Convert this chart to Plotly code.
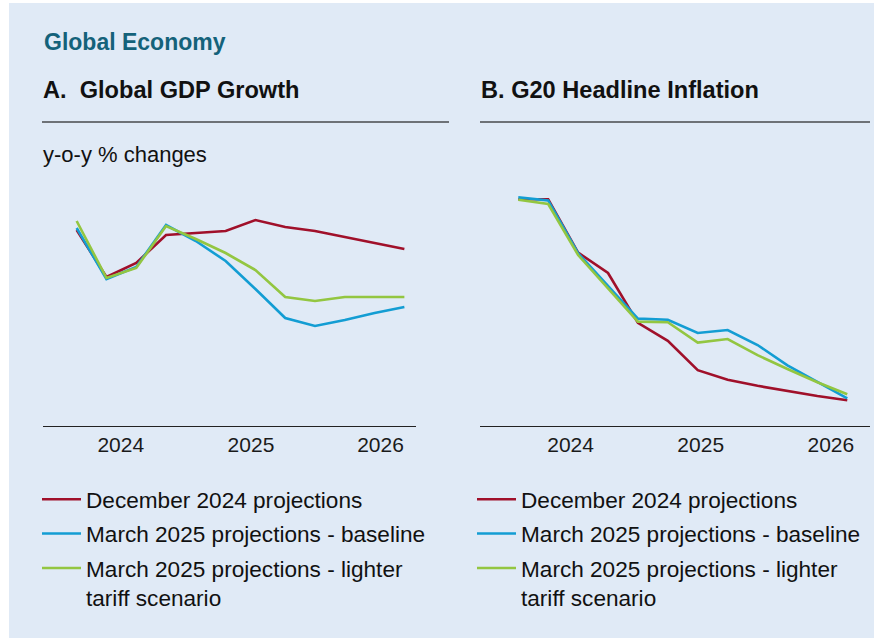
import plotly.graph_objects as go

# ---------------- data ----------------
quarters = ["2023Q3", "2023Q4", "2024Q1", "2024Q2", "2024Q3", "2024Q4",
            "2025Q1", "2025Q2", "2025Q3", "2025Q4", "2026Q1", "2026Q2"]
qidx = [0, 1, 2, 3, 4, 5, 6, 7, 8, 9, 10, 11]

series_names = ["December 2024 projections",
                "March 2025 projections - baseline",
                "March 2025 projections - lighter<br>tariff scenario"]

gdp_dec24 = [3.46, 2.99, 3.13, 3.41, 3.43, 3.45, 3.56, 3.49, 3.45, 3.39, 3.33, 3.27]
gdp_mar25_base = [3.48, 2.97, 3.09, 3.51, 3.35, 3.15, 2.87, 2.58, 2.50, 2.56, 2.63, 2.69]
gdp_mar25_light = [3.55, 2.98, 3.08, 3.50, 3.37, 3.23, 3.06, 2.79, 2.75, 2.79, 2.79, 2.79]

inf_dec24 = [6.28, 6.28, 5.39, 5.05, 4.22, 3.92, 3.43, 3.27, 3.17, 3.08, 3.00, 2.93]
inf_mar25_base = [6.31, 6.26, 5.38, 4.83, 4.29, 4.27, 4.05, 4.10, 3.85, 3.51, 3.24, 2.96]
inf_mar25_light = [6.27, 6.20, 5.35, 4.80, 4.24, 4.23, 3.89, 3.95, 3.68, 3.45, 3.23, 3.03]

year_labels = ["2024", "2025", "2026"]
gdp_year_pos = [1.48, 5.85, 10.2]
inf_year_pos = [1.75, 6.1, 10.45]

colors = ["#A0102A", "#139DD3", "#93C641"]

W, H = 874, 641
FONT = "Liberation Sans, Arial, sans-serif"

fig = go.Figure()

for i, (vals, name, col) in enumerate(zip([gdp_dec24, gdp_mar25_base, gdp_mar25_light], series_names, colors)):
    fig.add_trace(go.Scatter(x=qidx, y=vals, name=name, mode="lines",
                             line=dict(color=col, width=2.6),
                             xaxis="x", yaxis="y", legend="legend", legendgroup=f"a{i}",
                             customdata=quarters))
for i, (vals, name, col) in enumerate(zip([inf_dec24, inf_mar25_base, inf_mar25_light], series_names, colors)):
    fig.add_trace(go.Scatter(x=qidx, y=vals, name=name, mode="lines",
                             line=dict(color=col, width=2.6),
                             xaxis="x2", yaxis="y2", legend="legend2", legendgroup=f"b{i}",
                             customdata=quarters))

def px_x(p):
    return p / W

def px_y(p):
    return (H - p) / H

axis_common = dict(showgrid=False, zeroline=False, showline=True, linecolor="#222222",
                   linewidth=1, ticks="", tickfont=dict(family=FONT, size=21, color="#1a1a1a"),
                   fixedrange=True)

legend_common = dict(xanchor="left", yanchor="top", bgcolor="rgba(0,0,0,0)",
                     font=dict(family=FONT, size=22.6, color="#111111"),
                     tracegroupgap=2, itemwidth=39, valign="top", borderwidth=0)

fig.update_layout(
    width=W, height=H,
    margin=dict(l=0, r=0, t=0, b=0),
    paper_bgcolor="white",
    plot_bgcolor="rgba(0,0,0,0)",
    font=dict(family=FONT),
    xaxis=dict(domain=[px_x(42.7), px_x(416)], range=[-1.14, 11.39],
               tickmode="array", tickvals=gdp_year_pos, ticktext=year_labels,
               anchor="y", **axis_common),
    yaxis=dict(domain=[px_y(426), px_y(176)], range=[1.5, 4.0], visible=False,
               anchor="x", fixedrange=True),
    xaxis2=dict(domain=[px_x(480), px_x(870)], range=[-1.28, 11.76],
                tickmode="array", tickvals=inf_year_pos, ticktext=year_labels,
                anchor="y2", **axis_common),
    yaxis2=dict(domain=[px_y(426), px_y(176)], range=[2.5, 2.5 + 250 / 60], visible=False,
                anchor="x2", fixedrange=True),
    legend=dict(x=px_x(37), y=px_y(478), **legend_common),
    legend2=dict(x=px_x(472), y=px_y(478), **legend_common),
    shapes=[
        dict(type="rect", xref="paper", yref="paper", x0=px_x(9), x1=1.0,
             y0=px_y(638), y1=px_y(3), fillcolor="#E0EAF6", line=dict(width=0), layer="below"),
        dict(type="line", xref="paper", yref="paper", x0=px_x(42), x1=px_x(449),
             y0=px_y(122), y1=px_y(122), line=dict(color="#6E7277", width=1.8)),
        dict(type="line", xref="paper", yref="paper", x0=px_x(480), x1=px_x(870),
             y0=px_y(122), y1=px_y(122), line=dict(color="#6E7277", width=1.8)),
    ],
    annotations=[
        dict(text="<b>Global Economy</b>", x=px_x(42), y=px_y(42), xref="paper", yref="paper",
             xanchor="left", yanchor="middle", showarrow=False,
             font=dict(family=FONT, size=23, color="#14627A")),
        dict(text="<b>A.\u00a0 Global GDP Growth</b>", x=px_x(41), y=px_y(90), xref="paper", yref="paper",
             xanchor="left", yanchor="middle", showarrow=False,
             font=dict(family=FONT, size=23.6, color="#111111")),
        dict(text="<b>B. G20 Headline Inflation</b>", x=px_x(479), y=px_y(90), xref="paper", yref="paper",
             xanchor="left", yanchor="middle", showarrow=False,
             font=dict(family=FONT, size=23.6, color="#111111")),
        dict(text="y-o-y % changes", x=px_x(41), y=px_y(155), xref="paper", yref="paper",
             xanchor="left", yanchor="middle", showarrow=False,
             font=dict(family=FONT, size=22, color="#111111")),
    ],
)

fig.write_html("out.html")
